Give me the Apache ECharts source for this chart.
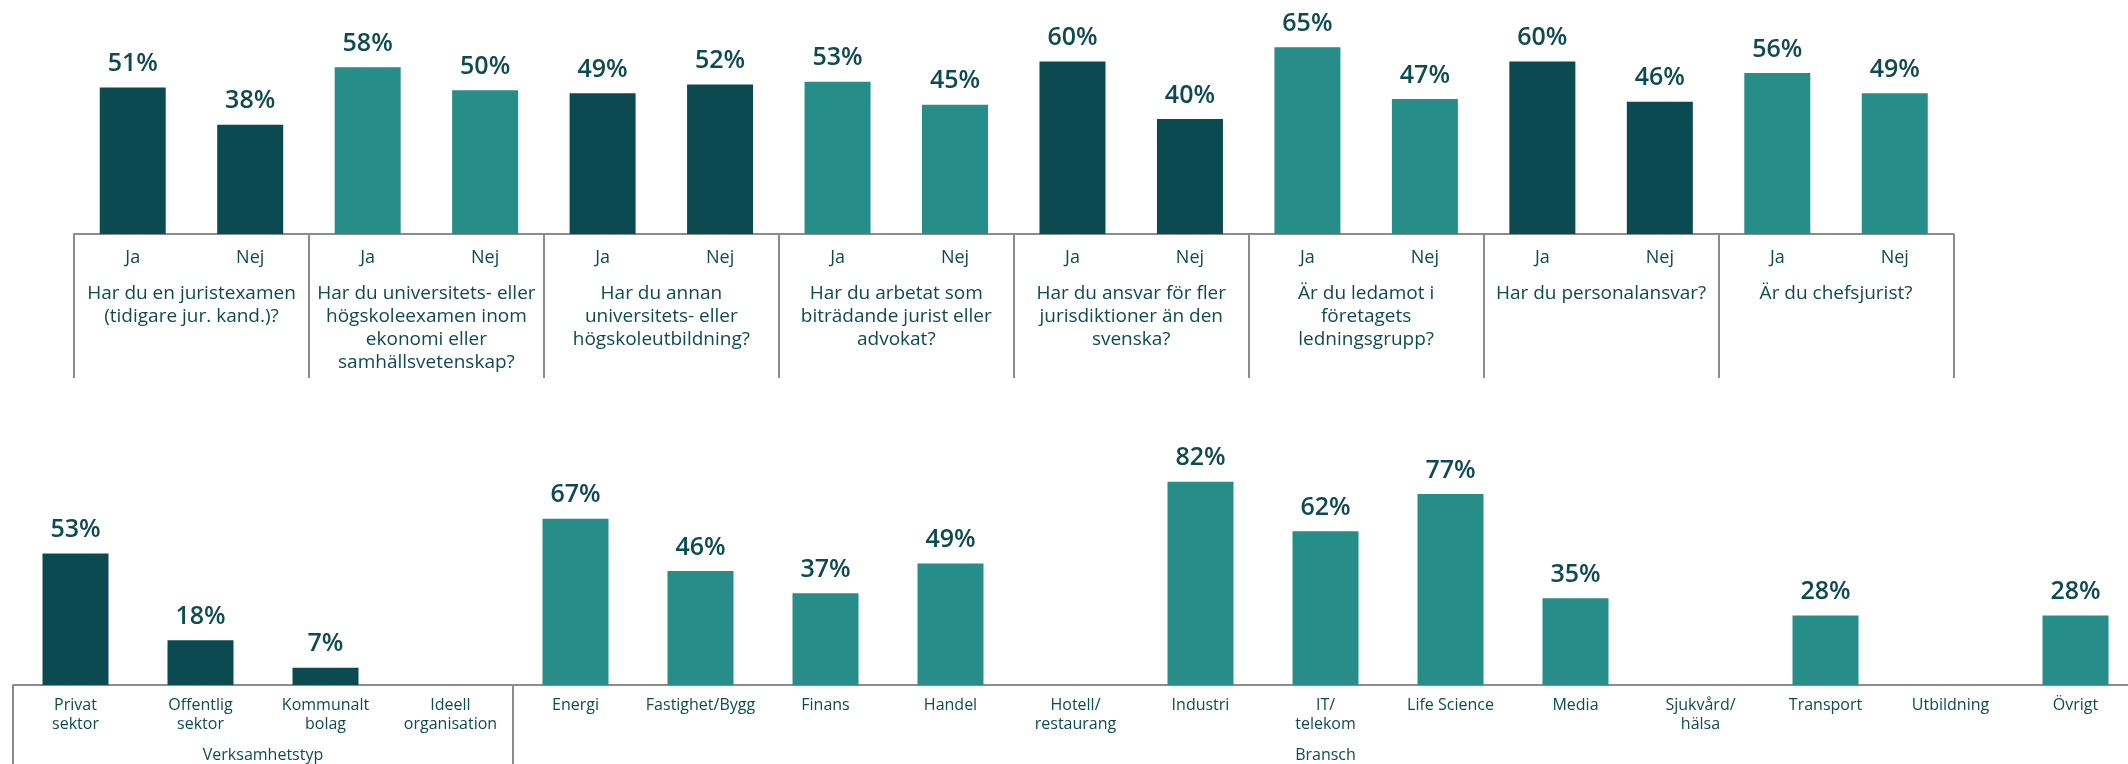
<!DOCTYPE html>
<html>
<head>
<meta charset="utf-8">
<script src="https://cdn.jsdelivr.net/npm/echarts@6/dist/echarts.min.js"></script>
<style>
  html, body { margin: 0; padding: 0; background: #ffffff; overflow: hidden; }
  #chart { width: 2138px; height: 764px; }
</style>
</head>
<body>
<div id="chart"></div>
<script>
// ---------- Data ----------
const answerLabels = ['Ja', 'Nej'];
const questions = [
  'Har du en juristexamen\n(tidigare jur. kand.)?',
  'Har du universitets- eller\nhögskoleexamen inom\nekonomi eller\nsamhällsvetenskap?',
  'Har du annan\nuniversitets- eller\nhögskoleutbildning?',
  'Har du arbetat som\nbiträdande jurist eller\nadvokat?',
  'Har du ansvar för fler\njurisdiktioner än den\nsvenska?',
  'Är du ledamot i\nföretagets\nledningsgrupp?',
  'Har du personalansvar?',
  'Är du chefsjurist?'
];
const jaValues  = [51, 58, 49, 53, 60, 65, 60, 56];
const nejValues = [38, 50, 52, 45, 40, 47, 46, 49];

const groupNames = ['Verksamhetstyp', 'Bransch'];
const sectorCategories = ['Privat\nsektor', 'Offentlig\nsektor', 'Kommunalt\nbolag', 'Ideell\norganisation'];
const sectorValues = [53, 18, 7, null];
const branschCategories = ['Energi', 'Fastighet/Bygg', 'Finans', 'Handel', 'Hotell/\nrestaurang', 'Industri',
  'IT/\ntelekom', 'Life Science', 'Media', 'Sjukvård/\nhälsa', 'Transport', 'Utbildning', 'Övrigt'];
const branschValues = [67, 46, 37, 49, null, 82, 62, 77, 35, null, 28, null, 28];

// ---------- Styles ----------
const DARK = '#0B4A50';
const LIGHT = '#268D88';
const TEXT = '#0E4B51';
const GRAY = '#8C8C8C';
const FONT = '"Open Sans", Lato, sans-serif';

// ---------- Build ----------
const topCats = [];
const topData = [];
questions.forEach((q, i) => {
  const color = i % 2 === 0 ? DARK : LIGHT;
  topCats.push(answerLabels[0], answerLabels[1]);
  topData.push({ value: jaValues[i], itemStyle: { color } });
  topData.push({ value: nejValues[i], itemStyle: { color } });
});

const bottomCats = sectorCategories.concat(branschCategories);
const bottomData = sectorValues.map(v => ({ value: v, itemStyle: { color: DARK } }))
  .concat(branschValues.map(v => ({ value: v, itemStyle: { color: LIGHT } })));

const groupSizes = [sectorCategories.length, branschCategories.length];
const groupBounds = [0];
const groupCenters = [];
groupSizes.forEach((n, i) => {
  groupCenters.push(groupBounds[i] + n / 2);
  groupBounds.push(groupBounds[i] + n);
});
const totalBottom = groupBounds[groupBounds.length - 1];

const valueLabel = {
  show: true,
  position: 'top',
  distance: 11,
  color: TEXT,
  fontFamily: FONT,
  fontSize: 25,
  fontWeight: 600,
  formatter: p => (p.value == null ? '' : p.value + '%')
};

const option = {
  backgroundColor: '#ffffff',
  animation: false,
  grid: [
    { left: 74, top: 4, width: 1879.5, height: 230 },
    { left: 13, top: 437, width: 2125, height: 248 }
  ],
  xAxis: [
    {
      gridIndex: 0, type: 'category', data: topCats,
      axisLine: { show: true, lineStyle: { color: GRAY, width: 2 } },
      axisTick: { show: false },
      axisLabel: { interval: 0, color: TEXT, fontFamily: FONT, fontSize: 18, margin: 15 }
    },
    {
      gridIndex: 0, type: 'category', data: questions, position: 'bottom',
      axisLine: { show: false },
      axisTick: { show: true, length: 144, lineStyle: { color: GRAY, width: 2 } },
      axisLabel: { interval: 0, color: TEXT, fontFamily: FONT, fontSize: 19, lineHeight: 23, margin: 48 }
    },
    {
      gridIndex: 1, type: 'category', data: bottomCats,
      axisLine: { show: true, lineStyle: { color: GRAY, width: 2 } },
      axisTick: { show: false },
      axisLabel: { interval: 0, color: TEXT, fontFamily: FONT, fontSize: 16, lineHeight: 19, margin: 11 }
    },
    {
      gridIndex: 1, type: 'value', min: 0, max: totalBottom, position: 'bottom',
      axisLine: { show: false },
      splitLine: { show: false },
      axisTick: { show: true, customValues: groupBounds.slice(0, groupBounds.length - 1), length: 90,
        lineStyle: { color: GRAY, width: 2 } },
      axisLabel: {
        customValues: groupCenters, color: TEXT, fontFamily: FONT, fontSize: 16, margin: 62,
        formatter: v => {
          const i = groupCenters.indexOf(v);
          return i >= 0 ? groupNames[i] : '';
        }
      }
    }
  ],
  yAxis: [
    { gridIndex: 0, type: 'value', min: 0, max: 80, show: false },
    { gridIndex: 1, type: 'value', min: 0, max: 100, show: false }
  ],
  series: [
    { type: 'bar', xAxisIndex: 0, yAxisIndex: 0, data: topData, barWidth: 66, label: valueLabel },
    { type: 'bar', xAxisIndex: 2, yAxisIndex: 1, data: bottomData, barWidth: 66, label: valueLabel }
  ]
};

const chart = echarts.init(document.getElementById('chart'), null, { renderer: 'canvas' });
chart.setOption(option);
</script>
</body>
</html>
